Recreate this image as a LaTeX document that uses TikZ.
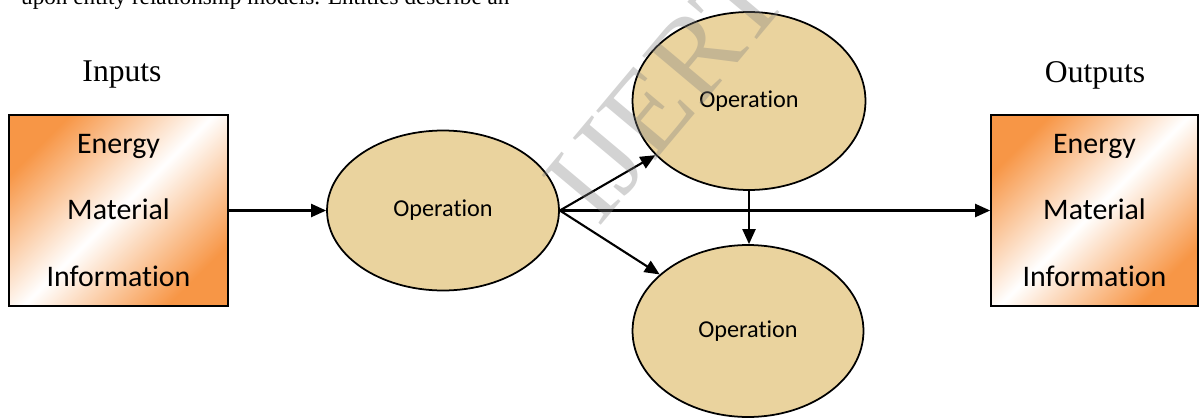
\documentclass[tikz,border=0pt]{standalone}
\usepackage{fontspec}
\setmainfont{Liberation Serif}
\newfontfamily\boxfont[Ligatures=NoCommon]{Carlito}
\usetikzlibrary{shapes.geometric,arrows.meta}
\definecolor{papyrus}{RGB}{234,211,158}
\definecolor{accorange}{RGB}{247,150,70}
\tikzset{
  flowbox/.style={draw,line width=1pt,left color=accorange,right color=accorange,
    middle color=white,shading angle=45,minimum width=4.38cm,minimum height=3.82cm,
    inner sep=0pt,align=center,font=\boxfont\fontsize{17}{38}\selectfont},
  opnode/.style={ellipse,draw,line width=1pt,fill=papyrus,inner sep=0pt,
    font=\boxfont\fontsize{13.8}{16}\selectfont},
  flow/.style={-{Triangle[length=3mm,width=2.6mm]},line width=1.2pt},
  head/.style={font=\fontsize{18}{20}\selectfont}
}
\begin{document}
\begin{tikzpicture}[x=0.02cm,y=-0.02cm]
\useasboundingbox (0,0) rectangle (1199,419);
\node[anchor=base west,font=\fontsize{13.2}{16}\selectfont] (cuttext) at (15,5) {upon entity relationship models. Entities describe an};
\node[head] (inlabel) at (122,75) {Inputs};
\node[head] (outlabel) at (1095,75) {Outputs};
\node[flowbox] (inbox) at (118.5,210.5) {Energy\\Material\\Information};
\node[flowbox,minimum width=4.14cm] (outbox) at (1094.5,210.5) {Energy\\Material\\Information};
\node[opnode,minimum width=4.64cm,minimum height=3.2cm] (op1) at (443,210.5) {Operation};
\node[opnode,minimum width=4.66cm,minimum height=3.56cm] (op2) at (749,101) {Operation};
\node[opnode,minimum width=4.62cm,minimum height=3.44cm] (op3) at (748,331) {Operation};
\draw[flow] (inbox) -- (op1);
\draw[flow] (op1.east) -- (op2);
\draw[flow] (op1.east) -- (op3);
\draw[flow] (op1.east) -- (op1.east -| outbox.west);
\draw[flow] (op2.south) -- (op2.south |- op3.north);
\node[rotate=50,text=gray,opacity=0.35,font=\fontsize{67}{67}\selectfont] (mark) at (666,89) {IJERT};
\end{tikzpicture}
\end{document}
